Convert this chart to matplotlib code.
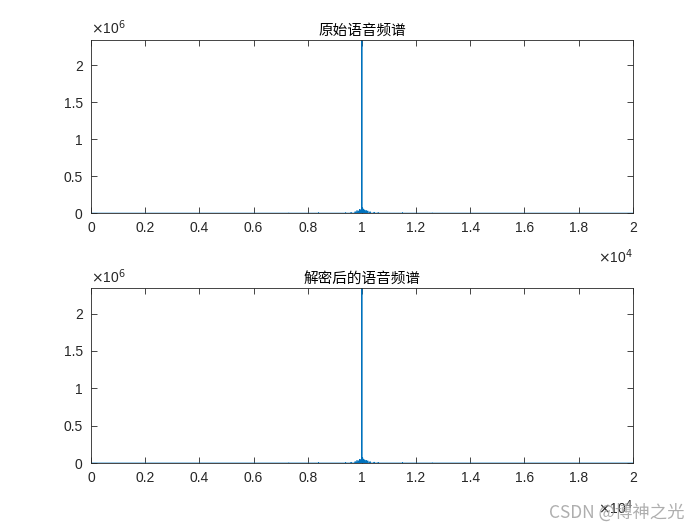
import numpy as np
import matplotlib
matplotlib.use("Agg")
import matplotlib.pyplot as plt

# ---- data ----
titles = ["原始语音频谱", "解密后的语音频谱"]
peak_freqs = [10000, 9400, 9600, 9750, 9820, 9880, 9920, 9960, 10030, 10070,
              10110, 10160, 10220, 10300, 10450, 10600, 8400, 11500, 7300, 12600]
peak_amps = [2.6e6, 0.006e6, 0.01e6, 0.02e6, 0.035e6, 0.03e6, 0.05e6, 0.045e6,
             0.07e6, 0.05e6, 0.04e6, 0.035e6, 0.03e6, 0.02e6, 0.012e6, 0.008e6,
             0.006e6, 0.006e6, 0.003e6, 0.003e6]
xticks = [0, 2000, 4000, 6000, 8000, 10000, 12000, 14000, 16000, 18000, 20000]
xticklabels = ["0", "0.2", "0.4", "0.6", "0.8", "1", "1.2", "1.4", "1.6", "1.8", "2"]
yticks = [0, 0.5e6, 1e6, 1.5e6, 2e6]
yticklabels = ["0", "0.5", "1", "1.5", "2"]
freq_step = 2
x_max = 20000
y_max = 2.34e6

freq = np.arange(0, x_max + freq_step, freq_step)
spec = np.zeros_like(freq, dtype=float)
for f, a in zip(peak_freqs, peak_amps):
    spec[int(round(f / freq_step))] = a

plt.rcParams['font.family'] = ['Liberation Sans', 'Noto Sans CJK SC', 'DejaVu Sans']
fig = plt.figure(figsize=(7, 5.25), dpi=100)
positions = [[0.13, 0.594, 0.774, 0.330], [0.13, 0.118, 0.774, 0.333]]
txtc = '#262626'
for pos, title in zip(positions, titles):
    ax = fig.add_axes(pos)
    ax.plot(freq, spec, color='#0072BD', lw=0.6)
    ax.set_xlim(0, x_max)
    ax.set_ylim(0, y_max)
    ax.set_xticks(xticks)
    ax.set_xticklabels(xticklabels)
    ax.set_yticks(yticks)
    ax.set_yticklabels(yticklabels)
    ax.tick_params(direction='in', top=True, right=True, length=4, width=0.6,
                   labelsize=10, colors=txtc, pad=6)
    for s in ax.spines.values():
        s.set_linewidth(0.6)
        s.set_color(txtc)
    ax.set_title(title, fontsize=10.5, family=['Noto Sans CJK SC'], color='black', pad=4)
    ax.text(0.0, 1.015, r'$\times$10$^{6}$', transform=ax.transAxes, fontsize=10,
            color=txtc, ha='left', va='bottom')
    ax.text(1.0, -0.2, r'$\times$10$^{4}$', transform=ax.transAxes, fontsize=10,
            color=txtc, ha='right', va='top')

fig.text(0.978, 0.006, 'CSDN @博神之光', ha='right', va='bottom', fontsize=12.5,
         color='#9a9a9a', alpha=0.8, family=['Noto Sans CJK SC', 'DejaVu Sans'])
fig.savefig('out.png', dpi=100, facecolor='white')
